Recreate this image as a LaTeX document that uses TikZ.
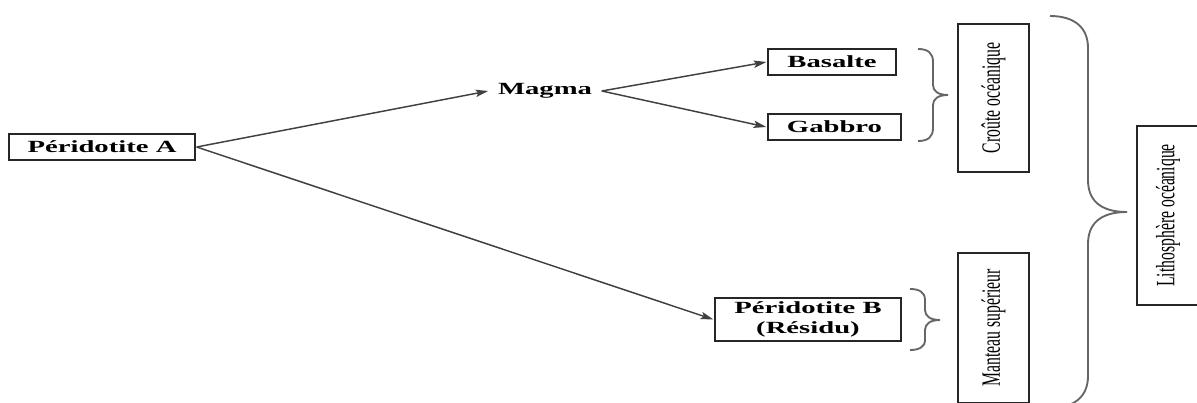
\documentclass[tikz,border=0pt]{standalone}
\usepackage{fontspec}
\setmainfont{Liberation Serif}
\usetikzlibrary{arrows.meta}

\tikzset{every picture/.style={line width=0.75pt}}
\tikzset{
  rock/.style={draw=black!85, line width=1.5pt, fill=white, font=\fontsize{12.8}{14.5}\selectfont\bfseries, xscale=1.68, align=center, inner sep=0pt},
  layer/.style={draw=black!85, line width=1.5pt, fill=white, font=\fontsize{11.8}{14}\selectfont, xscale=1.68, rotate=90, inner sep=0pt},
  flow/.style={draw=black!75, line width=1.1pt, -{Stealth[length=9.5pt, width=5.5pt, inset=2pt]}},
  curly/.style={draw=black!60, line width=1.4pt},
}

\begin{document}
\begin{tikzpicture}[x=0.75pt,y=0.75pt,yscale=-1,xscale=1]
\useasboundingbox (0,0) rectangle (1197,403);

%Shape: Rectangle
\node (perA) [rock, minimum width=83pt, minimum height=19.5pt] at (102,147) {Péridotite A};
% Text Node
\node (magma) [font=\fontsize{12.8}{14.5}\selectfont\bfseries, xscale=1.68, inner sep=4pt] at (545,91) {Magma};
%Shape: Rectangle
\node (basalte) [rock, minimum width=57.1pt, minimum height=19.5pt] at (832,62) {Basalte};
%Shape: Rectangle
\node (gabbro) [rock, minimum width=59.4pt, minimum height=19.5pt] at (834.5,127) {Gabbro};
%Shape: Rectangle
\node (perB) [rock, minimum width=83pt, minimum height=32.25pt] at (808,319.5) {Péridotite B\\(Résidu)};

%Shape: Rectangle
\node (croute) [layer, minimum width=111pt, minimum height=31.7pt] at (993.5,98) {Croûte océanique};
%Shape: Rectangle
\node (manteau) [layer, minimum width=112.5pt, minimum height=31.7pt] at (993.5,328) {Manteau supérieur};
%Shape: Rectangle
\node (litho) [layer, minimum width=134.25pt, minimum height=27.7pt] at (1168,215.5) {Lithosphère océanique};

%Straight Lines
\draw [flow] (perA.east) -- (magma.west);
\draw [flow] (perA.east) -- (perB.west);
\draw [flow] (magma.east) -- (basalte.west);
\draw [flow] (magma.east) -- (gabbro.west);

%Shape: Brace
\draw [curly] (918,49) .. controls (928,49) and (933,53) .. (933,62) -- (933,85) .. controls (933,91) and (938,95) .. (948,95) .. controls (938,95) and (933,99) .. (933,105) -- (933,128) .. controls (933,137) and (928,141) .. (918,141) ;
%Shape: Brace
\draw [curly] (910,289) .. controls (919,289) and (925,292) .. (925,300) -- (925,310) .. controls (925,316) and (930,320) .. (940,320) .. controls (930,320) and (925,324) .. (925,330) -- (925,340) .. controls (925,347) and (919,350) .. (910,350) ;
%Shape: Brace
\draw [curly] (1050,16) .. controls (1075,16) and (1088,28) .. (1088,48) -- (1088,180) .. controls (1088,200) and (1100,212) .. (1127,212) .. controls (1100,212) and (1088,224) .. (1088,244) -- (1088,376) .. controls (1088,396) and (1075,408) .. (1050,408) ;

\end{tikzpicture}
\end{document}
